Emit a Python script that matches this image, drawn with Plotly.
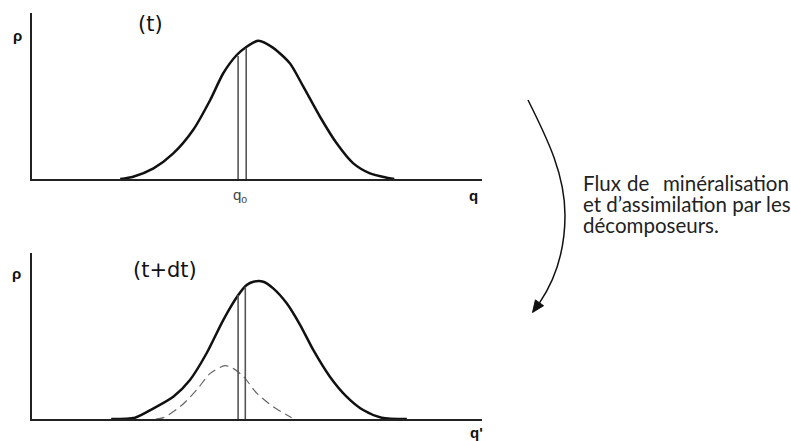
import plotly.graph_objects as go

W, H = 791, 441

# ---- data ----
q_t = [19.6, 22.5, 27.0, 31.4, 35.8, 39.6, 42.5, 45.5, 47.7, 50.3, 53.6, 57.3, 60.3, 64.0, 67.7, 71.4, 75.1, 78.8, 80.5]
rho_t = [0, 0.014, 0.064, 0.154, 0.295, 0.476, 0.637, 0.747, 0.797, 0.833, 0.790, 0.697, 0.556, 0.375, 0.215, 0.094, 0.034, 0.008, 0]

q_tdt = [17.6, 22.9, 27.0, 31.4, 35.1, 38.8, 42.5, 45.8, 47.7, 49.2, 51.4, 53.6, 56.6, 59.6, 62.5, 66.2, 69.9, 73.6, 77.7, 83.3]
rho_tdt = [0, 0.008, 0.064, 0.134, 0.235, 0.396, 0.596, 0.745, 0.807, 0.827, 0.827, 0.787, 0.697, 0.566, 0.416, 0.255, 0.135, 0.054, 0.008, 0]

q_dash = [27.5, 29.2, 32.9, 36.6, 39.6, 42.9, 44.7, 47.0, 50.0, 53.6, 57.7]
rho_dash = [0, 0.008, 0.074, 0.175, 0.275, 0.321, 0.305, 0.255, 0.154, 0.074, 0.008]

q0_lines_t = [45.8, 47.6]
q0_heights_t = [0.741, 0.789]
q0_lines_tdt = [45.8, 47.4]
q0_heights_tdt = [0.747, 0.797]

def px(x):
    return x / W

def py(y):
    return 1 - y / H

fig = go.Figure()

BLACK = "#111111"
GRAY = "#555555"

fig.add_trace(go.Scatter(x=q_t, y=rho_t, mode="lines", xaxis="x", yaxis="y",
                         line=dict(color=BLACK, width=2.5, shape="spline", smoothing=0.7),
                         showlegend=False, hoverinfo="skip", cliponaxis=False))
for xv, hv in zip(q0_lines_t, q0_heights_t):
    fig.add_trace(go.Scatter(x=[xv, xv], y=[0, hv], mode="lines", xaxis="x", yaxis="y",
                             line=dict(color=GRAY, width=1.6), showlegend=False, hoverinfo="skip"))

fig.add_trace(go.Scatter(x=q_tdt, y=rho_tdt, mode="lines", xaxis="x2", yaxis="y2",
                         line=dict(color=BLACK, width=2.5, shape="spline", smoothing=0.7),
                         showlegend=False, hoverinfo="skip", cliponaxis=False))
fig.add_trace(go.Scatter(x=q_dash, y=rho_dash, mode="lines", xaxis="x2", yaxis="y2",
                         line=dict(color="#666666", width=1.2, shape="spline", smoothing=0.8, dash="9px,5px"),
                         showlegend=False, hoverinfo="skip"))
for xv, hv in zip(q0_lines_tdt, q0_heights_tdt):
    fig.add_trace(go.Scatter(x=[xv, xv], y=[0, hv], mode="lines", xaxis="x2", yaxis="y2",
                             line=dict(color=GRAY, width=1.6), showlegend=False, hoverinfo="skip"))

ax_common = dict(showgrid=False, zeroline=False, showticklabels=False, ticks="",
                 showline=True, linecolor="#222222", linewidth=2, fixedrange=True)

fig.update_layout(
    width=W, height=H,
    margin=dict(l=0, r=0, t=0, b=0),
    paper_bgcolor="white", plot_bgcolor="white",
    xaxis=dict(domain=[px(32), px(482)], range=[0, 100], anchor="y", **ax_common),
    yaxis=dict(domain=[py(179), py(13)], range=[0, 1], anchor="x", **ax_common),
    xaxis2=dict(domain=[px(32), px(482)], range=[0, 100], anchor="y2", **ax_common),
    yaxis2=dict(domain=[py(419), py(253)], range=[0, 1], anchor="x2", **ax_common),
)

def label(text, x, y, size, xanchor="center", color="#111111", family="Liberation Sans, Arial, sans-serif", bold=False):
    t = f"<b>{text}</b>" if bold else text
    fig.add_annotation(text=t, x=px(x), y=py(y), xref="paper", yref="paper",
                       xanchor=xanchor, yanchor="middle", showarrow=False, borderpad=0,
                       font=dict(size=size, color=color, family=family))

label("ρ", 17, 36, 15, bold=True)
label("ρ", 16, 273, 15, bold=True)
label("(t)", 150, 24, 21, family="DejaVu Sans, sans-serif")
label("(t+dt)", 165, 270, 21, family="DejaVu Sans, sans-serif")
label("q", 474, 195, 15, bold=True)
label("q'", 476, 432, 15, bold=True)
label("q<sub>o</sub>", 240, 195, 15, color="#444444")

TXT = "Lato, Open Sans, sans-serif"
TS = 20.5
label("Flux", 582, 183, TS, xanchor="left", color="#222222", family=TXT)
label("de", 638, 183, TS, color="#222222", family=TXT)
label("minéralisation", 790, 183, TS, xanchor="right", color="#222222", family=TXT)
label("et d’assimilation par les", 582, 204, TS, xanchor="left", color="#222222", family=TXT)
label("décomposeurs.", 582, 225, TS, xanchor="left", color="#222222", family=TXT)

# curved arrow
path = (f"M {px(528)} {py(100)} "
        f"C {px(548)} {py(140)} {px(565)} {py(175)} {px(565)} {py(215)} "
        f"C {px(565)} {py(255)} {px(553)} {py(283)} {px(539.5)} {py(302.8)}")
fig.add_shape(type="path", path=path, xref="paper", yref="paper",
              line=dict(color=BLACK, width=1.5))
head = (f"M {px(532.5)} {py(312.5)} L {px(543.6)} {py(305.7)} "
        f"L {px(535.4)} {py(299.9)} Z")
fig.add_shape(type="path", path=head, xref="paper", yref="paper",
              line=dict(color=BLACK, width=1), fillcolor=BLACK)

fig.write_html("out.html", config={"displayModeBar": False},
               post_script="document.body.style.margin='0';document.body.style.overflow='hidden';")
